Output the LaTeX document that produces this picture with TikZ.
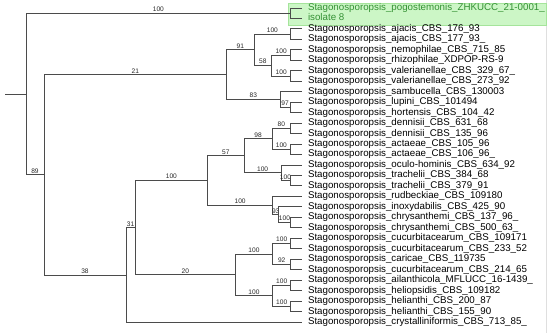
\documentclass[tikz,border=0pt]{standalone}
\usepackage{fontspec}
\setmainfont{Liberation Sans}
\definecolor{hlfill}{RGB}{204,246,198}
\definecolor{hlline}{RGB}{165,228,155}
\definecolor{hltext}{RGB}{52,145,52}
\definecolor{branch}{RGB}{75,75,75}

\begin{document}
\begin{tikzpicture}[x=1pt,y=-1pt,
  edge/.style={draw=branch,line width=1pt},
  blab/.style={pos=0.75,above,inner sep=1.2pt,text=black!85,
    font=\fontsize{6.6}{7}\selectfont},
  leaf/.style={anchor=west,inner xsep=5.8pt,inner ysep=0pt,text height=6.8pt,
    text depth=2pt,text=black,font=\fontsize{9.75}{11}\selectfont}]
  \useasboundingbox (0,0) rectangle (550,333);
  \draw[gray!25] (546,0) -- (546,333);
  % highlighted new isolate
  \filldraw[fill=hlfill,draw=hlline] (287.7,3) rectangle (546,25);

  % leaves
  \node[leaf,text=hltext] (l0) at (302,8) {Stagonosporopsis\_pogostemonis\_ZHKUCC\_21-0001\_};
  \node[leaf,text=hltext] (l1) at (302,18.47) {isolate 8};
  \foreach \i/\name in {2/ajacis\_CBS\_176\_93, 3/ajacis\_CBS\_177\_93\_,
      4/nemophilae\_CBS\_715\_85, 5/rhizophilae\_XDPOP-RS-9,
      6/valerianellae\_CBS\_329\_67\_, 7/valerianellae\_CBS\_273\_92,
      8/sambucella\_CBS\_130003, 9/lupini\_CBS\_101494, 10/hortensis\_CBS\_104\_42,
      11/dennisii\_CBS\_631\_68, 12/dennisii\_CBS\_135\_96,
      13/actaeae\_CBS\_105\_96, 14/actaeae\_CBS\_106\_96\_,
      15/oculo-hominis\_CBS\_634\_92, 16/trachelii\_CBS\_384\_68,
      17/trachelii\_CBS\_379\_91, 18/rudbeckiae\_CBS\_109180,
      19/inoxydabilis\_CBS\_425\_90, 20/chrysanthemi\_CBS\_137\_96\_,
      21/chrysanthemi\_CBS\_500\_63\_, 22/cucurbitacearum\_CBS\_109171,
      23/cucurbitacearum\_CBS\_233\_52, 24/caricae\_CBS\_119735,
      25/cucurbitacearum\_CBS\_214\_65, 26/ailanthicola\_MFLUCC\_16-1439\_,
      27/heliopsidis\_CBS\_109182, 28/helianthi\_CBS\_200\_87,
      29/helianthi\_CBS\_155\_90, 30/crystalliniformis\_CBS\_713\_85\_}
    \node[leaf] (l\i) at (302,{8+10.47*\i}) {Stagonosporopsis\_\name};

  % internal nodes
  \coordinate (stub) at (5,94.1);
  \coordinate (root) at (26,94.1);
  \coordinate (n89) at (44,174.9);
  \coordinate (n21) at (226.7,74.75);
  \coordinate (n91) at (254,49.9);
  \coordinate (n58) at (271.7,65.6);
  \coordinate (n83) at (280,99.6);
  \coordinate (n38) at (126,275);
  \coordinate (n31) at (135.3,227.85);
  \coordinate (nup) at (207.5,180.75);
  \coordinate (n57) at (244.3,155.9);
  \coordinate (n98) at (272,138.9);
  \coordinate (ntr) at (281,172.9);
  \coordinate (nru) at (272.7,205.6);
  \coordinate (n93) at (278.7,214.8);
  \coordinate (n20) at (235.3,274.95);
  \coordinate (ncu) at (272.7,254);
  \coordinate (nhe) at (272.7,295.9);
  % cherries
  \coordinate (pogo) at (290.7,13.25);
  \coordinate (ajac) at (290.7,34.2);
  \coordinate (nemo) at (290.7,55.1);
  \coordinate (vale) at (290.7,76.06);
  \coordinate (lupi) at (290,107.5);
  \coordinate (denn) at (290.7,128.4);
  \coordinate (acta) at (290.7,149.35);
  \coordinate (trac) at (290,180.76);
  \coordinate (chry) at (290.3,222.6);
  \coordinate (cucu) at (290.7,243.6);
  \coordinate (cari) at (290.7,264.5);
  \coordinate (aila) at (290.7,285.45);
  \coordinate (heli) at (290.7,306.4);

  \draw[edge] (stub) -- (root);
  \draw[edge] (root) |- node[blab] {100} (pogo);
  \draw[edge] (root) |- node[blab] {89} (n89);
  \draw[edge] (n89) |- node[blab] {21} (n21);
  \draw[edge] (n89) |- node[blab] {38} (n38);
  \draw[edge] (n21) |- node[blab] {91} (n91);
  \draw[edge] (n21) |- node[blab] {83} (n83);
  \draw[edge] (n91) |- node[blab] {100} (ajac);
  \draw[edge] (n91) |- node[blab] {58} (n58);
  \draw[edge] (n58) |- node[blab] {100} (nemo);
  \draw[edge] (n58) |- node[blab] {100} (vale);
  \draw[edge] (n83) |- (l8.west);
  \draw[edge] (n83) |- node[blab] {97} (lupi);
  \draw[edge] (n38) |- node[blab] {31} (n31);
  \draw[edge] (n38) |- (l30.west);
  \draw[edge] (n31) |- node[blab] {100} (nup);
  \draw[edge] (n31) |- node[blab] {20} (n20);
  \draw[edge] (nup) |- node[blab] {57} (n57);
  \draw[edge] (nup) |- node[blab] {100} (nru);
  \draw[edge] (n57) |- node[blab] {98} (n98);
  \draw[edge] (n57) |- node[blab] {100} (ntr);
  \draw[edge] (n98) |- node[blab] {80} (denn);
  \draw[edge] (n98) |- node[blab] {100} (acta);
  \draw[edge] (ntr) |- (l15.west);
  \draw[edge] (ntr) |- node[blab] {100} (trac);
  \draw[edge] (nru) |- (l18.west);
  \draw[edge] (nru) |- node[blab] {93} (n93);
  \draw[edge] (n93) |- (l19.west);
  \draw[edge] (n93) |- node[blab] {100} (chry);
  \draw[edge] (n20) |- node[blab] {100} (ncu);
  \draw[edge] (n20) |- node[blab] {100} (nhe);
  \draw[edge] (ncu) |- node[blab] {100} (cucu);
  \draw[edge] (ncu) |- node[blab] {92} (cari);
  \draw[edge] (nhe) |- node[blab] {100} (aila);
  \draw[edge] (nhe) |- node[blab] {100} (heli);
  \foreach \p/\a/\b in {pogo/0/1, ajac/2/3, nemo/4/5, vale/6/7, lupi/9/10,
      denn/11/12, acta/13/14, trac/16/17, chry/20/21, cucu/22/23,
      cari/24/25, aila/26/27, heli/28/29}
    \draw[edge] (\p) |- (l\a.west) (\p) |- (l\b.west);
\end{tikzpicture}
\end{document}
